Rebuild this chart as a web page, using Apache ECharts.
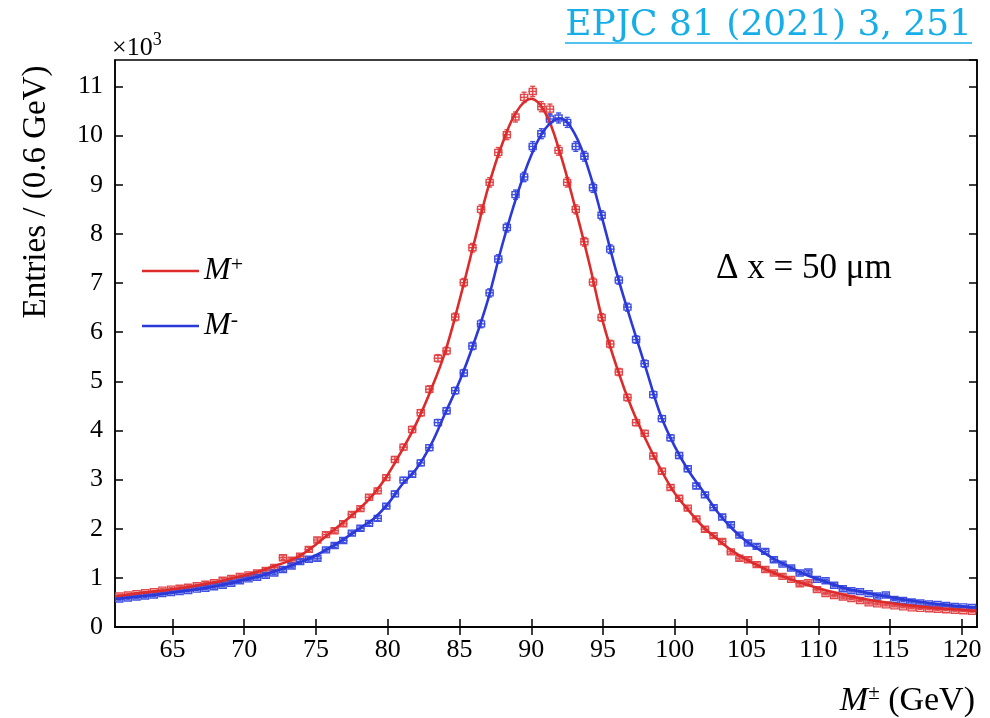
<!DOCTYPE html>
<html>
<head>
<meta charset="utf-8">
<script src="https://cdn.jsdelivr.net/npm/echarts@6/dist/echarts.min.js"></script>
<style>html,body{margin:0;padding:0;background:#fff;}#c{width:990px;height:718px;}</style>
</head>
<body>
<div id="c"></div>
<script>
// ---- data (values in units of 10^3 entries per 0.6 GeV) ----
const binStart = 61.0;
const binWidth = 0.6;
const xTickValues = [65, 70, 75, 80, 85, 90, 95, 100, 105, 110, 115, 120];

// measured histogram contents, M+ (red)
const mPlusCounts = [
  0.63, 0.65, 0.68, 0.70, 0.72, 0.75, 0.77, 0.79, 0.81, 0.84,
  0.87, 0.90, 0.95, 0.99, 1.03, 1.06, 1.10, 1.15, 1.21, 1.41,
  1.36, 1.44, 1.58, 1.77, 1.88, 1.96, 2.10, 2.29, 2.41, 2.64,
  2.77, 3.04, 3.41, 3.66, 4.02, 4.36, 4.84, 5.47, 5.62, 6.31,
  7.01, 7.72, 8.50, 9.05, 9.66, 10.02, 10.38, 10.78, 10.90, 10.59,
  10.54, 9.70, 9.05, 8.50, 7.84, 7.02, 6.30, 5.76, 5.19, 4.67,
  4.16, 3.94, 3.48, 3.17, 2.84, 2.62, 2.42, 2.20, 1.99, 1.86,
  1.74, 1.53, 1.40, 1.37, 1.27, 1.17, 1.10, 1.03, 0.97, 0.88,
  0.90, 0.76, 0.68, 0.64, 0.61, 0.58, 0.54, 0.49, 0.47, 0.45,
  0.43, 0.41, 0.39, 0.38, 0.37, 0.36, 0.35, 0.34, 0.33, 0.32
];
// measured histogram contents, M- (blue)
const mMinusCounts = [
  0.57, 0.59, 0.61, 0.63, 0.65, 0.68, 0.70, 0.72, 0.74, 0.77,
  0.79, 0.82, 0.85, 0.89, 0.94, 0.98, 1.01, 1.05, 1.10, 1.17,
  1.24, 1.33, 1.38, 1.40, 1.57, 1.66, 1.76, 1.91, 2.01, 2.11,
  2.21, 2.46, 2.71, 2.99, 3.11, 3.34, 3.65, 4.16, 4.40, 4.81,
  5.17, 5.72, 6.17, 6.80, 7.49, 8.13, 8.80, 9.16, 9.78, 10.04,
  10.34, 10.36, 10.27, 9.78, 9.58, 8.94, 8.38, 7.69, 7.06, 6.51,
  5.85, 5.36, 4.73, 4.24, 3.85, 3.49, 3.22, 2.87, 2.69, 2.43,
  2.24, 2.08, 1.87, 1.71, 1.64, 1.54, 1.37, 1.28, 1.20, 1.10,
  1.12, 0.97, 0.94, 0.85, 0.78, 0.74, 0.72, 0.68, 0.63, 0.65,
  0.56, 0.54, 0.51, 0.49, 0.47, 0.46, 0.44, 0.42, 0.41, 0.40
];

// fit curves
const fitMass = [61,62,63,64,65,66,67,68,69,70,71,72,73,74,75,76,77,78,79,80,
  81,82,83,84,85,86,87,88,89,90,91,92,93,94,95,96,97,98,99,100,
  101,102,103,104,105,106,107,108,109,110,111,112,113,114,115,116,117,118,119,120,121];
const mPlusFit = [0.62,0.66,0.70,0.73,0.77,0.81,0.86,0.91,0.98,1.05,1.13,1.23,1.33,1.47,1.68,1.92,2.15,2.40,2.70,3.10,
  3.60,4.15,4.82,5.60,6.65,7.80,8.95,9.85,10.50,10.75,10.45,9.65,8.60,7.45,6.20,5.25,4.45,3.80,3.22,2.72,
  2.36,2.03,1.78,1.55,1.37,1.22,1.09,0.98,0.88,0.79,0.71,0.64,0.58,0.53,0.49,0.45,0.42,0.39,0.37,0.35,0.33];
const mMinusFit = [0.57,0.60,0.63,0.66,0.70,0.74,0.78,0.83,0.89,0.96,1.03,1.12,1.22,1.33,1.46,1.62,1.80,2.00,2.20,2.50,
  2.90,3.22,3.70,4.35,5.00,5.78,6.68,7.80,8.78,9.60,10.15,10.35,10.05,9.30,8.25,7.15,6.18,5.25,4.32,3.67,
  3.16,2.75,2.33,2.00,1.74,1.55,1.37,1.22,1.08,0.97,0.87,0.78,0.72,0.66,0.61,0.56,0.52,0.48,0.45,0.42,0.40];

// ---- build ----
const SERIF = 'Liberation Serif';
const RED = '#dd2b2b', BLUE = '#2b39d8';
const RED_PT = '#e2474a', BLUE_PT = '#3f4fe0';

function toPairs(xs, ys) { return ys.map((v, i) => [xs[i], v]); }
function binPairs(vals) { return vals.map((v, i) => [binStart + binWidth * (i + 0.5), v]); }

function pointRenderer(color) {
  return function (params, api) {
    const x = api.value(0), y = api.value(1);
    const err = Math.sqrt(y * 1000) / 1000;
    const c = api.coord([x, y]);
    const l = api.coord([x - binWidth / 2, y]);
    const r = api.coord([x + binWidth / 2, y]);
    const t = api.coord([x, y + err]);
    const b = api.coord([x, y - err]);
    const st = { stroke: color, lineWidth: 1.4, fill: null };
    return {
      type: 'group',
      children: [
        { type: 'rect', shape: { x: c[0] - 3.5, y: c[1] - 3, width: 7, height: 6 }, style: st },
        { type: 'line', shape: { x1: l[0], y1: c[1], x2: r[0], y2: c[1] }, style: st },
        { type: 'line', shape: { x1: c[0], y1: t[1], x2: c[0], y2: b[1] }, style: st },
        { type: 'line', shape: { x1: c[0] - 2.5, y1: t[1], x2: c[0] + 2.5, y2: t[1] }, style: st },
        { type: 'line', shape: { x1: c[0] - 2.5, y1: b[1], x2: c[0] + 2.5, y2: b[1] }, style: st }
      ]
    };
  };
}

const axisLineStyle = { color: '#000', width: 1.5 };
const chart = echarts.init(document.getElementById('c'), null, { renderer: 'canvas' });

chart.setOption({
  animation: false,
  backgroundColor: '#fff',
  grid: { left: 115, right: 13, top: 60, bottom: 88, show: true, borderColor: '#000', borderWidth: 1.5, backgroundColor: 'transparent' },
  title: [
    {
      text: 'EPJC 81 (2021) 3, 251', right: 18, top: 8, padding: 0,
      textStyle: { fontFamily: 'DejaVu Serif', fontWeight: 'normal', fontSize: 36, color: '#17aee8' }
    },
    {
      text: '{a|×10}{s|3}', left: 112, top: 31, padding: 0,
      textStyle: { fontFamily: SERIF, fontWeight: 'normal', fontSize: 26, color: '#000',
        rich: {
          a: { fontFamily: SERIF, fontSize: 26, lineHeight: 34, color: '#000' },
          s: { fontFamily: SERIF, fontSize: 18, color: '#000', verticalAlign: 'top', lineHeight: 16 }
        } }
    },
    {
      text: 'Δ x = 50 μm', left: 716, top: 251, padding: 0,
      textStyle: { fontFamily: SERIF, fontWeight: 'normal', fontSize: 35, color: '#000' }
    }
  ],
  legend: {
    orient: 'vertical', left: 142, top: 254, padding: 0,
    itemWidth: 57, itemHeight: 2.5, itemGap: 22, icon: 'rect',
    data: ['M+', 'M-'],
    formatter: n => n === 'M+' ? '{m|M}{s|+}' : '{m|M}{s|-}',
    textStyle: {
      rich: {
        m: { fontFamily: SERIF, fontStyle: 'italic', fontSize: 32, lineHeight: 34, color: '#000' },
        s: { fontFamily: SERIF, fontSize: 22, lineHeight: 20, verticalAlign: 'top', color: '#000' }
      }
    },
    selectedMode: false
  },
  graphic: [
    { type: 'line', shape: { x1: 565, y1: 43, x2: 972, y2: 43 }, style: { stroke: '#17aee8', lineWidth: 1.5 } },
    { type: 'text', x: 36, y: 192, rotation: Math.PI / 2,
      style: { text: 'Entries / (0.6 GeV)', font: '33px "Liberation Serif"', fill: '#000', textAlign: 'center', textVerticalAlign: 'middle' } }
  ],
  xAxis: [
    {
      type: 'value', min: 61, max: 121.05, position: 'bottom',
      axisLine: { show: true, lineStyle: axisLineStyle },
      axisTick: { show: true, inside: true, length: 8, customValues: xTickValues, lineStyle: axisLineStyle },
      axisLabel: { customValues: xTickValues, fontFamily: SERIF, fontSize: 26, color: '#000', margin: 10 },
      splitLine: { show: false },
      name: '{m|M}{s|±} (GeV)', nameLocation: 'end', nameGap: -2,
      nameTextStyle: {
        align: 'right', verticalAlign: 'top', padding: [56, 0, 0, 0],
        fontFamily: SERIF, fontSize: 34, color: '#000',
        rich: {
          m: { fontFamily: SERIF, fontStyle: 'italic', fontSize: 34, lineHeight: 36, color: '#000' },
          s: { fontFamily: SERIF, fontSize: 21, lineHeight: 22, verticalAlign: 'top', color: '#000' }
        }
      }
    },
    {
      type: 'value', min: 61, max: 121.05, position: 'top',
      axisLine: { show: true, lineStyle: axisLineStyle },
      axisTick: { show: true, inside: true, length: 8, customValues: xTickValues, lineStyle: axisLineStyle },
      axisLabel: { show: false },
      splitLine: { show: false }
    }
  ],
  yAxis: [
    {
      type: 'value', min: 0, max: 11.54, interval: 1, position: 'left',
      axisLine: { show: true, lineStyle: axisLineStyle },
      axisTick: { show: true, inside: true, length: 8, lineStyle: axisLineStyle },
      axisLabel: { fontFamily: SERIF, fontSize: 26, color: '#000', margin: 12, showMaxLabel: false,
        formatter: v => (Math.abs(v - Math.round(v)) < 1e-6 ? String(Math.round(v)) : '') },
      splitLine: { show: false }
    },
    {
      type: 'value', min: 0, max: 11.54, interval: 1, position: 'right',
      axisLine: { show: true, lineStyle: axisLineStyle },
      axisTick: { show: true, inside: true, length: 8, lineStyle: axisLineStyle },
      axisLabel: { show: false },
      splitLine: { show: false }
    }
  ],
  series: [
    { name: 'M+ data', type: 'custom', clip: true, data: binPairs(mPlusCounts), renderItem: pointRenderer(RED_PT), z: 2 },
    { name: 'M- data', type: 'custom', clip: true, data: binPairs(mMinusCounts), renderItem: pointRenderer(BLUE_PT), z: 2 },
    { name: 'M+', type: 'line', smooth: 0.4, showSymbol: false, data: toPairs(fitMass, mPlusFit),
      lineStyle: { color: RED, width: 2.6 }, itemStyle: { color: RED }, z: 3 },
    { name: 'M-', type: 'line', smooth: 0.4, showSymbol: false, data: toPairs(fitMass, mMinusFit),
      lineStyle: { color: BLUE, width: 2.6 }, itemStyle: { color: BLUE }, z: 3 }
  ]
});
</script>
</body>
</html>
